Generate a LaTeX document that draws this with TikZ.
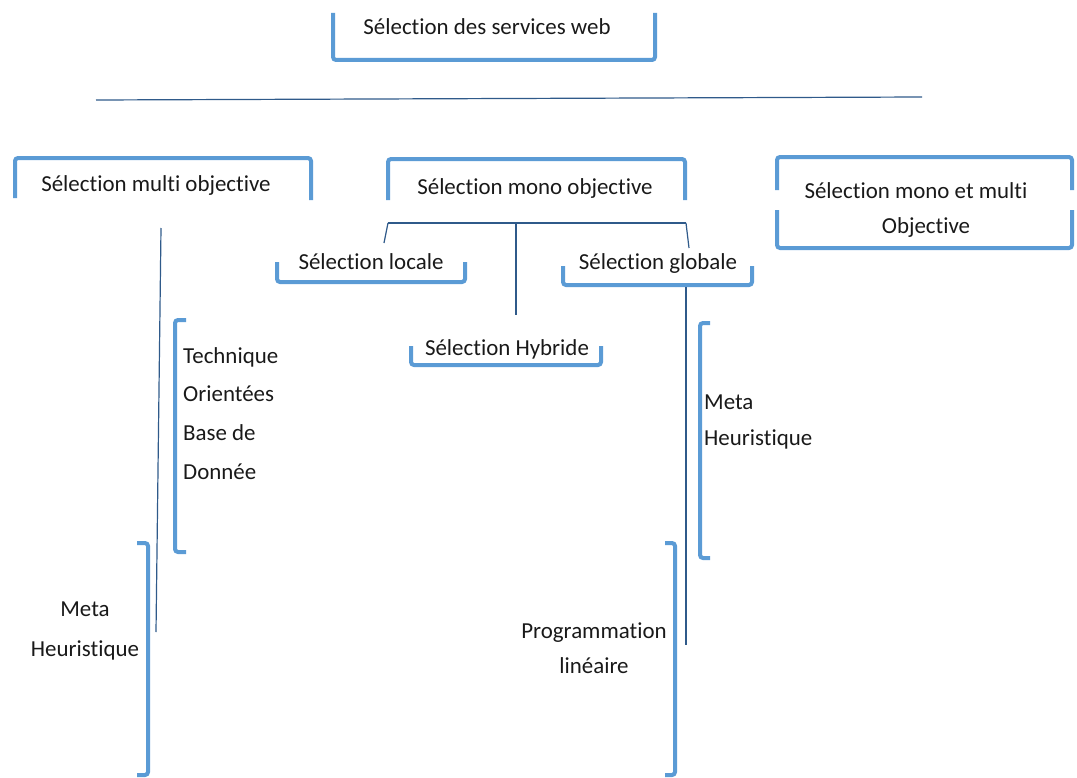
\documentclass[tikz,border=0pt]{standalone}
\usepackage{fontspec}
\setmainfont[Ligatures=NoCommon]{Carlito}
\definecolor{bblue}{HTML}{5B9BD5}
\definecolor{lblue}{HTML}{2F5A8A}
\begin{document}
\begin{tikzpicture}[x=1bp,y=-1bp,
  brk/.style={draw=bblue, line width=4bp, rounded corners=3bp},
  thin/.style={draw=lblue, line width=1.2bp},
  lbl/.style={inner sep=0pt, font=\fontsize{23}{38}\selectfont, text=black!90}]
\useasboundingbox (0,0) rectangle (1077,778);
% top
\node[lbl] (top) at (487,27) {Sélection des services web};
\draw[brk] (333,13) -- (333,60) -- (655,60) -- (655,13);
\coordinate (hl) at (96,100);
\coordinate (hr) at (922,97);
\draw[thin] (hl) -- (hr);
% multi
\node[lbl] (multi) at (156,186) {Sélection multi objective};
\draw[brk] (15,198) -- (15,158) -- (311,158) -- (311,200);
% mono
\node[lbl] (mono) at (535,189) {Sélection mono objective};
\draw[brk] (388,200) -- (388,159) -- (685,159) -- (685,200);
% mono et multi
\node[lbl, align=center, font=\fontsize{23}{35}\selectfont] (monomulti) at (916,210) {Sélection mono et multi\\\hspace*{20bp}Objective};
\draw[brk] (777,190) -- (777,157) -- (1072,157) -- (1072,190);
\draw[brk] (777,210) -- (777,248) -- (1072,248) -- (1072,210);
% mono connectors
\coordinate (ml) at (388,223);
\coordinate (mr) at (686,223);
\coordinate (mc) at (516,223);
\draw[thin] (ml) -- (mr);
\node[lbl] (locale) at (371,262) {Sélection locale};
\draw[brk] (277,262) -- (277,282) -- (465,282) -- (465,262);
\node[lbl] (globale) at (658,264) {Sélection globale};
\draw[brk] (563,266) -- (563,285) -- (752,285) -- (752,266);
\node[lbl] (hybride) at (507,349) {Sélection Hybride};
\draw[brk] (411,346) -- (411,365) -- (601,365) -- (601,346);
\coordinate (lt) at (384,243);
\coordinate (gt) at (689,248);
\coordinate (ht) at (516,315);
\draw[thin] (ml) -- (lt);
\draw[thin] (mr) -- (gt);
\draw[thin] (mc) -- (ht);
% multi objective branch
\coordinate (mv1) at (161,228);
\coordinate (mv2) at (156,632);
\draw[thin] (mv1) -- (mv2);
\node[lbl, align=left, anchor=north west, font=\fontsize{23}{39}\selectfont] (tech) at (183,347) {Technique\\Orientées\\Base de\\Donnée};
\draw[brk] (186,320) -- (175,320) -- (175,552) -- (186,552);
\node[lbl, align=center, font=\fontsize{23}{40}\selectfont] (metaL) at (85,631) {Meta\\Heuristique};
\draw[brk] (137,543) -- (148,543) -- (148,775) -- (137,775);
% global branch
\coordinate (gv1) at (686,287);
\coordinate (gv2) at (686,645);
\draw[thin] (gv1) -- (gv2);
\node[lbl, align=left, anchor=north west, font=\fontsize{23}{36}\selectfont] (metaR) at (704,395) {Meta\\Heuristique};
\draw[brk] (710,323) -- (700,323) -- (700,558) -- (710,558);
\node[lbl, align=center, font=\fontsize{23}{35}\selectfont] (prog) at (594,648) {Programmation\\linéaire};
\draw[brk] (665,543) -- (675,543) -- (675,775) -- (665,775);
\end{tikzpicture}
\end{document}
